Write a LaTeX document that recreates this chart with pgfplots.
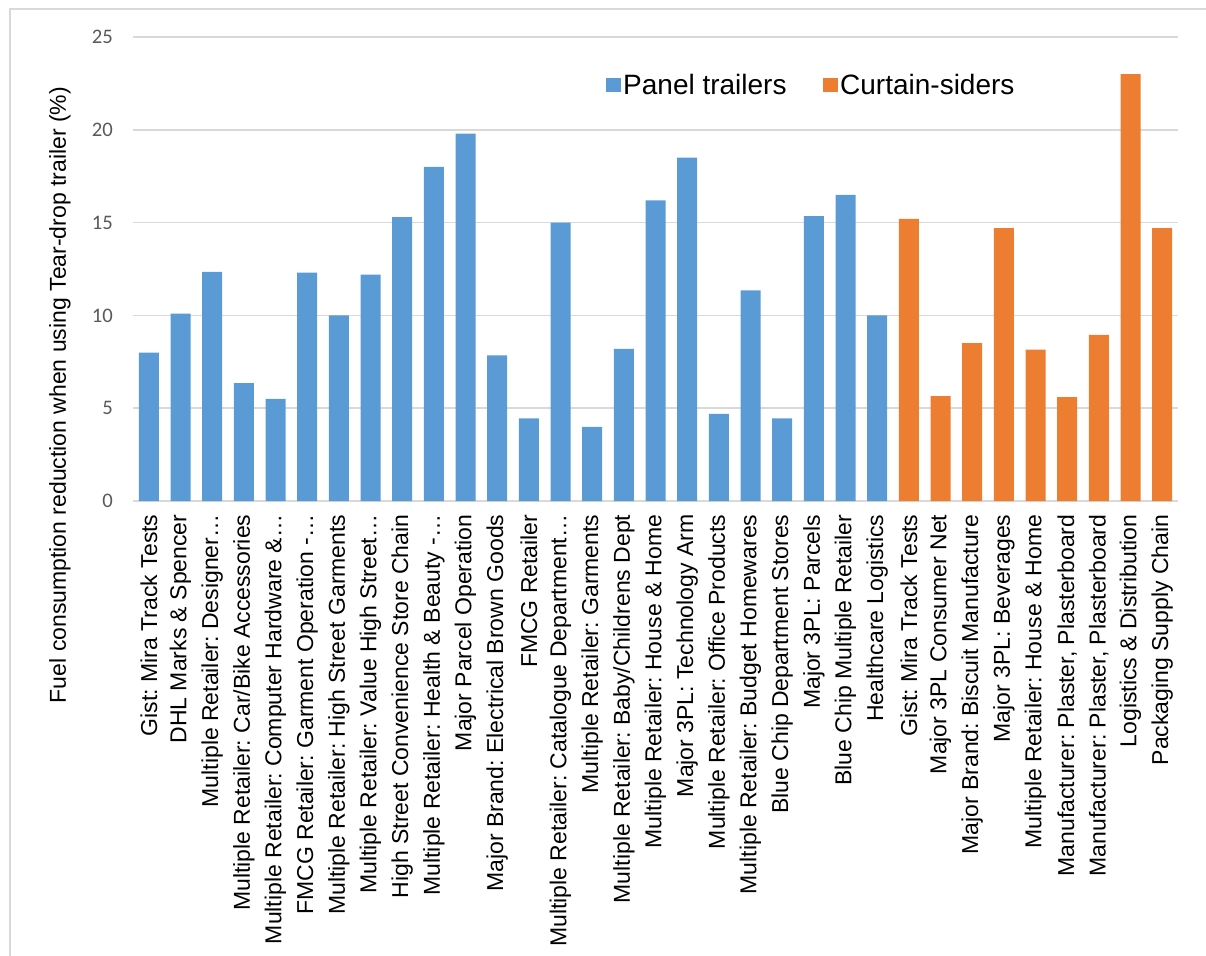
\documentclass[border=0pt]{standalone}
\usepackage{pgfplots}
\pgfplotsset{compat=1.18}
\usepackage{fontspec}
\setmainfont{Liberation Sans}
\newfontfamily\tickfont{Carlito}
\definecolor{barblue}{HTML}{5B9BD5}
\definecolor{barorange}{HTML}{ED7D31}
\definecolor{gridgray}{HTML}{D9D9D9}
\definecolor{tickgray}{HTML}{595959}
\frenchspacing
\begin{document}
\begin{tikzpicture}
\path[use as bounding box] (-99.75pt,-341.25pt) rectangle (804.75pt,375.75pt);
\draw[gridgray, line width=1.2pt] (-92.25pt,-345pt) -- (-92.25pt,369pt) -- (810pt,369pt);
\begin{axis}[
  at={(0,0)}, anchor=south west,
  scale only axis,
  width=783.75pt, height=348pt,
  xmin=-0.5, xmax=32.5,
  ymin=0, ymax=25,
  ytick={0,5,10,15,20,25},
  xtick={0,...,32},
  ymajorgrids,
  grid style={gridgray, line width=1.1pt},
  axis line style={draw=none},
  major tick style={draw=none},
  /pgf/number format/assume math mode=true,
  yticklabel style={font=\tickfont\fontsize{15.5}{15.5}\selectfont, text=tickgray, inner sep=0pt},
  ytick style={draw=none},
  yticklabel shift=15pt,
  xticklabel style={rotate=90, anchor=east, inner sep=0pt, font=\fontsize{17.25}{17.25}\selectfont},
  xticklabel shift=10pt,
  xticklabels={
    Gist: Mira Track Tests,
    DHL Marks \& Spencer,
    Multiple Retailer: Designer…,
    Multiple Retailer: Car/Bike Accessories,
    Multiple Retailer: Computer Hardware \&…,
    FMCG Retailer: Garment Operation -…,
    Multiple Retailer: High Street Garments,
    Multiple Retailer: Value High Street…,
    High Street Convenience Store Chain,
    Multiple Retailer: Health \& Beauty -…,
    Major Parcel Operation,
    Major Brand: Electrical Brown Goods,
    FMCG Retailer,
    Multiple Retailer: Catalogue Department…,
    Multiple Retailer: Garments,
    Multiple Retailer: Baby/Childrens Dept,
    Multiple Retailer: House \& Home,
    Major 3PL: Technology Arm,
    Multiple Retailer: Office Products,
    Multiple Retailer: Budget Homewares,
    Blue Chip Department Stores,
    Major 3PL: Parcels,
    Blue Chip Multiple Retailer,
    Healthcare Logistics,
    Gist: Mira Track Tests,
    Major 3PL Consumer Net,
    Major Brand: Biscuit Manufacture,
    Major 3PL: Beverages,
    Multiple Retailer: House \& Home,
    {Manufacturer: Plaster, Plasterboard},
    {Manufacturer: Plaster, Plasterboard},
    Logistics \& Distribution,
    Packaging Supply Chain},
  legend columns=2,
  legend style={at={(0.452,0.8966)}, anchor=west, draw=none, fill=none,
    font=\fontsize{21}{21}\selectfont, inner sep=0pt,
    /tikz/every even column/.append style={column sep=25pt}},
  legend image code/.code={\fill[#1] (0pt,-5.6pt) rectangle (11.2pt,5.6pt);},
]
\addplot[ybar, bar width=15pt, bar shift=0pt, fill=barblue, draw=none] coordinates {
(0,8.0) (1,10.1) (2,12.35) (3,6.35) (4,5.5) (5,12.3) (6,10.0) (7,12.2)
(8,15.3) (9,18.0) (10,19.8) (11,7.85) (12,4.45) (13,15.0) (14,4.0) (15,8.2)
(16,16.2) (17,18.5) (18,4.7) (19,11.35) (20,4.45) (21,15.35) (22,16.5) (23,10.0)};
\addlegendentry{Panel trailers}
\addplot[ybar, bar width=15pt, bar shift=0pt, fill=barorange, draw=none] coordinates {
(24,15.2) (25,5.65) (26,8.5) (27,14.7) (28,8.15) (29,5.6) (30,8.95) (31,23.0) (32,14.7)};
\addlegendentry{Curtain-siders}
\end{axis}
\node[rotate=90, font=\fontsize{17.25}{17.25}\selectfont] at (-54.75pt,79.5pt) {Fuel consumption reduction when using Tear-drop trailer (\%)};
\end{tikzpicture}
\end{document}
